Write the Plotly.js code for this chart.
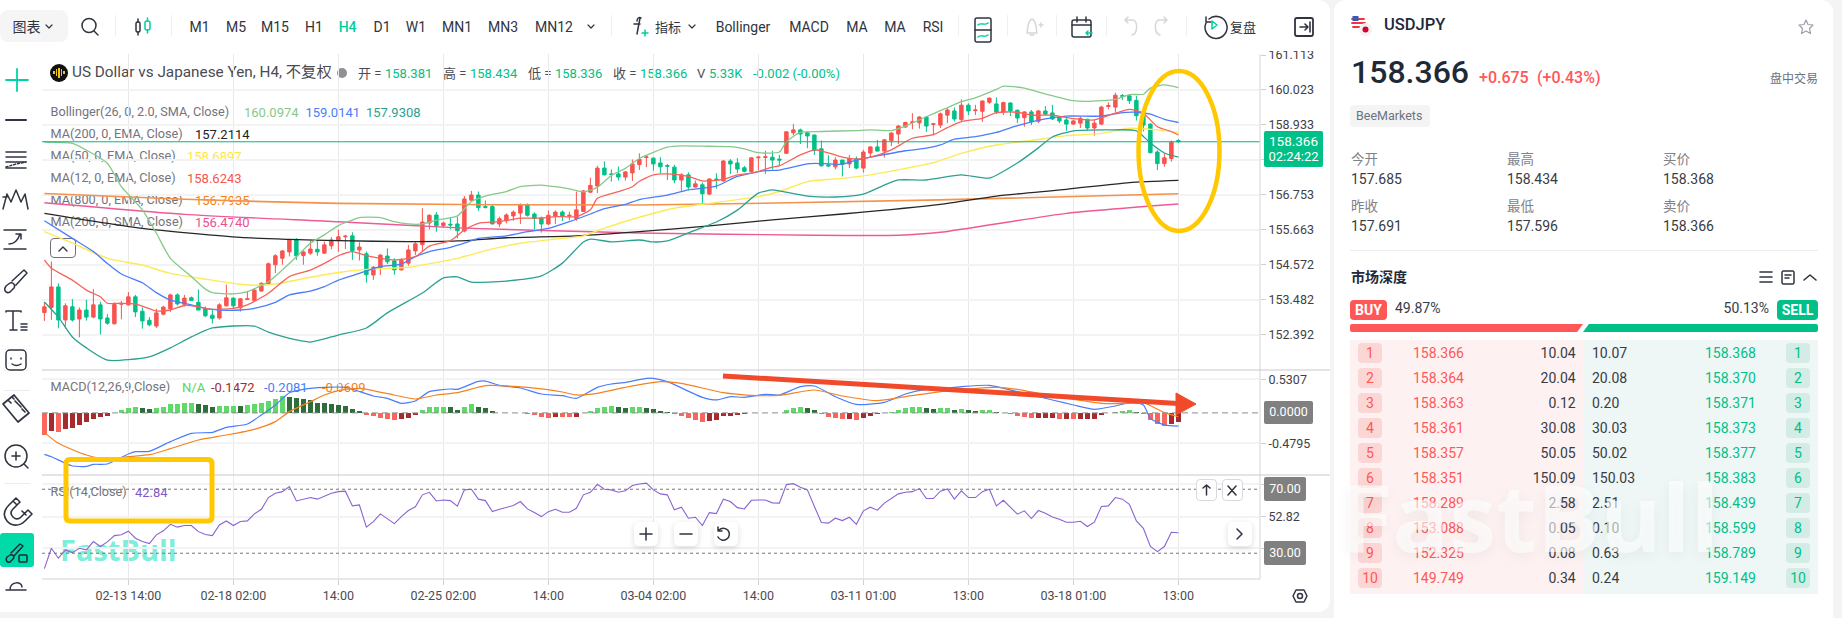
<!DOCTYPE html>
<html><head><meta charset="utf-8">
<script src="https://cdn.plot.ly/plotly-3.0.1.min.js"></script>
<style>
html,body{margin:0;padding:0;background:#f4f4f5;overflow:hidden}
#app{position:relative;width:1842px;height:618px;overflow:hidden;font-family:Roboto,"Noto Sans CJK SC",sans-serif}
.card{position:absolute;background:#fff}
#under,#over{position:absolute;left:0;top:0;width:1842px;height:618px}
#under{z-index:1}#plot{position:absolute;left:0;top:0;z-index:2}#over{z-index:3;pointer-events:none}
.t{position:absolute;white-space:nowrap;line-height:1}
.b{position:absolute;box-sizing:border-box}
svg{position:absolute;left:0;top:0}
</style></head><body>
<div id="app">
<div class="card" style="left:0;top:0;width:1330px;height:612px;border-radius:0 12px 12px 0"></div>
<div class="card" style="left:1334px;top:0;width:499px;height:618px;border-radius:12px 12px 0 0"></div>
<div id="under"></div><div id="plot"></div><div id="over"></div>
</div>
<script>
// ---------- candles ----------
const opens=[153.09,153.25,153.89,152.86,153.27,152.89,153.17,152.95,153.33,152.92,
152.74,153.35,153.33,153.58,153.13,152.85,152.67,153.04,153.21,153.64,
153.35,153.55,153.41,153.21,153.01,152.92,153.30,153.54,153.24,153.50,
153.47,153.76,153.97,154.58,154.78,154.98,155.37,154.87,154.94,155.06,
154.94,155.17,155.33,155.45,155.48,155.04,154.92,154.26,154.48,154.85,
154.70,154.42,154.63,155.01,155.21,155.88,156.13,155.80,155.84,155.85,
155.63,156.59,156.75,156.39,156.39,155.85,155.95,156.10,156.19,156.44,
156.16,156.04,155.85,156.10,156.22,156.10,156.02,156.24,156.84,157.03,
157.59,157.41,157.41,157.31,157.44,157.70,157.92,157.90,157.75,157.67,
157.62,157.22,157.38,157.00,157.07,156.78,157.25,157.19,157.81,157.75,
157.60,157.48,157.91,157.92,157.93,157.87,158.05,158.69,158.78,158.69,
158.62,158.19,157.69,157.63,157.84,157.72,157.88,157.59,158.06,158.25,
158.12,158.44,158.65,158.87,159.01,159.00,159.18,158.95,158.93,159.24,
159.37,159.10,159.55,159.38,159.36,159.64,159.59,159.34,159.62,159.39,
159.16,159.34,159.05,159.37,159.31,159.17,159.09,158.96,158.99,159.11,
158.84,158.96,159.51,159.49,159.85,159.84,159.70,159.25,158.96,158.09,
157.73,157.89,158.45];
const closes=[153.27,153.89,152.86,153.30,152.86,153.17,152.95,153.33,152.89,152.76,
153.34,153.37,153.58,153.11,152.83,152.71,153.08,153.26,153.64,153.36,
153.54,153.47,153.17,152.99,152.91,153.33,153.55,153.30,153.52,153.52,
153.79,154.00,154.61,154.86,155.01,155.35,154.86,154.98,155.07,154.98,
155.20,155.35,155.45,155.47,155.02,155.13,154.27,154.50,154.88,154.67,
154.42,154.72,155.04,155.23,155.91,156.12,155.80,155.88,155.82,155.64,
156.63,156.75,156.36,156.37,155.85,156.01,156.13,156.22,156.44,156.12,
156.02,155.85,156.12,156.22,156.10,156.12,156.29,156.88,157.05,157.59,
157.38,157.39,157.31,157.47,157.72,157.86,157.94,157.72,157.63,157.65,
157.22,157.38,157.00,157.10,156.79,157.25,157.23,157.81,157.72,157.56,
157.49,157.91,157.93,157.94,157.84,157.84,158.72,158.78,158.65,158.59,
158.14,157.66,157.66,157.84,157.71,157.89,157.59,158.09,158.25,158.12,
158.47,158.68,158.90,159.01,159.03,159.18,158.90,158.97,159.28,159.40,
159.12,159.55,159.37,159.40,159.68,159.77,159.34,159.63,159.37,159.15,
159.34,159.03,159.37,159.27,159.12,159.06,158.96,159.06,159.14,158.84,
158.99,159.49,159.54,159.86,159.83,159.69,159.22,158.93,158.07,157.73,
157.91,158.40,158.41];
const highs=[153.42,154.68,154.00,153.38,153.51,153.25,153.49,153.82,153.43,153.04,
153.41,153.45,153.73,153.64,153.25,152.95,153.21,153.30,153.68,153.69,
153.64,153.59,153.81,153.28,153.17,153.38,153.96,153.56,153.54,153.74,
153.85,154.03,154.65,154.91,155.04,155.37,155.41,155.02,155.32,155.35,
155.30,155.44,155.67,155.51,155.59,155.28,154.99,154.54,154.91,155.09,
154.78,154.78,155.20,155.30,156.34,156.15,156.22,155.92,156.06,156.08,
156.72,156.88,156.86,156.58,156.44,156.08,156.18,156.27,156.49,156.49,
156.21,156.08,156.27,156.27,156.27,156.23,156.86,156.91,157.29,157.66,
157.80,157.55,157.64,157.50,157.86,158.05,157.99,157.92,157.93,157.72,
157.69,157.43,157.46,157.20,157.14,157.27,157.43,157.84,157.87,157.90,
157.66,157.93,157.97,158.13,158.13,158.00,158.73,158.96,158.82,158.73,
158.64,158.45,157.99,157.93,157.84,158.00,157.95,158.16,158.28,158.47,
158.50,158.71,158.93,159.03,159.30,159.21,159.21,159.00,159.32,159.48,
159.48,159.73,159.61,159.56,159.69,159.79,159.79,159.66,159.63,159.42,
159.36,159.40,159.40,159.52,159.56,159.21,159.19,159.09,159.19,159.13,
159.09,159.53,159.64,159.94,159.90,159.87,159.84,159.32,158.98,158.15,
158.05,158.45,158.49];
const lows=[152.83,152.86,152.60,152.59,152.81,152.32,152.84,152.91,152.41,152.71,
152.72,152.88,153.31,152.95,152.59,152.66,152.61,153.00,153.11,153.31,
153.28,153.45,153.16,152.95,152.75,152.87,153.28,153.21,153.12,153.48,
153.42,153.74,153.95,154.32,154.58,154.84,154.73,154.58,154.89,154.86,
154.92,155.06,154.98,155.07,154.73,154.71,154.02,154.11,154.26,154.60,
154.27,154.40,154.55,154.88,154.99,155.68,155.61,155.73,155.68,155.40,
155.59,156.57,156.25,156.33,155.84,155.75,155.87,155.95,155.85,156.08,
155.69,155.58,155.81,155.85,155.94,155.97,155.95,156.22,156.82,156.81,
157.36,157.17,157.20,157.20,157.19,157.53,157.62,157.51,157.43,157.22,
157.12,156.88,156.90,156.98,156.47,156.75,156.95,157.17,157.41,157.43,
157.46,157.46,157.53,157.41,157.55,157.66,158.03,158.61,158.34,158.21,
158.00,157.64,157.62,157.55,157.33,157.59,157.55,157.45,157.92,158.11,
157.92,158.28,158.34,158.84,158.80,158.82,158.72,158.61,158.84,158.99,
159.04,159.06,159.24,159.24,159.03,159.59,159.27,159.24,159.21,158.99,
158.88,158.93,158.99,159.24,159.09,158.99,158.75,158.94,158.84,158.76,
158.60,158.93,159.42,159.32,159.71,159.59,159.07,158.73,158.05,157.53,
157.63,157.79,158.38];
const lastPriceLine=158.41;

// ---------- overlays, read at bar positions ----------
const bbUpperBar=[0,4,6,9,11,14,16,18,21,23,24,27,29,32,34,36,38,40,42,44,45,48,50,52,54,56,59,61,63,66,68,71,73,75,77,79,81,83,85,87,89,91,95,98,100,102,105,106,108,111,116,118,121,123,126,128,129,131,133,136,137,140,143,147,149,153,155,157,158,160,162];
const bbUpper=[158.40,158.36,158.15,157.74,157.01,156.29,155.56,154.78,154.21,153.82,153.71,153.67,153.74,154.05,154.42,154.83,155.25,155.51,155.80,155.97,156.05,156.05,155.92,155.85,155.85,155.97,156.10,156.55,156.72,156.86,157.01,157.06,157.01,156.94,156.85,156.99,157.36,157.58,157.89,158.08,158.24,158.28,158.27,158.26,158.19,158.07,158.09,158.41,158.70,158.73,158.76,158.78,158.76,158.90,159.19,159.38,159.47,159.66,159.78,160.04,160.14,160.08,159.90,159.69,159.67,159.73,159.88,159.89,160.08,160.18,160.10];
const bbMidBar=[0,4,7,9,11,14,16,18,21,23,26,28,30,33,35,38,40,42,45,48,51,53,55,58,60,62,66,69,72,75,78,80,83,85,89,92,96,99,103,105,109,110,114,116,119,123,126,128,130,133,136,139,143,146,151,154,156,158,160,162];
const bbMid=[155.95,155.40,154.99,154.62,154.29,154.02,153.71,153.48,153.33,153.22,153.16,153.17,153.22,153.41,153.64,153.76,153.90,154.10,154.31,154.52,154.60,154.83,154.99,155.12,155.25,155.40,155.48,155.61,155.71,155.92,156.16,156.33,156.46,156.61,156.75,156.91,157.03,157.33,157.51,157.53,157.72,157.74,157.71,157.84,157.97,158.13,158.21,158.31,158.49,158.57,158.70,158.91,159.12,159.21,159.21,159.32,159.33,159.27,159.11,159.01];
const bbLowerBar=[0,2,4,6,9,15,18,21,24,30,32,36,38,42,46,49,54,57,59,61,66,71,74,77,78,81,85,87,89,93,96,99,102,104,105,109,113,117,120,122,126,131,135,139,142,144,147,152,156,158,160,162];
const bbLower=[153.42,152.95,152.33,151.99,151.61,151.71,151.99,152.33,152.61,152.67,152.48,152.24,152.17,152.39,152.61,153.08,153.70,154.17,154.20,154.04,154.07,154.23,154.63,155.29,155.38,155.29,155.35,155.29,155.32,155.66,155.91,156.28,156.81,156.91,156.88,156.72,156.69,156.78,157.06,157.22,157.22,157.38,157.28,157.75,158.22,158.56,158.75,158.78,158.75,158.37,158.06,157.93];
const ma12Bar=[0,1,4,6,8,9,11,13,16,18,20,22,24,27,29,32,35,38,40,42,44,46,48,50,53,55,58,60,62,65,68,71,73,76,78,79,82,84,85,87,89,92,94,97,99,101,104,105,108,110,111,114,116,118,121,124,127,129,131,134,136,139,141,144,147,150,153,155,157,159,161,162];
const ma12=[154.73,154.47,154.10,153.79,153.58,153.38,153.38,153.36,153.14,153.17,153.31,153.27,153.19,153.22,153.33,153.69,154.21,154.41,154.62,154.86,154.99,154.86,154.78,154.73,154.83,155.16,155.33,155.66,155.87,155.92,156.03,156.03,156.08,156.08,156.29,156.65,156.86,157.01,157.18,157.38,157.41,157.33,157.19,157.24,157.38,157.43,157.62,157.66,158.00,158.16,158.13,157.93,157.87,157.93,158.16,158.52,158.63,158.85,159.04,159.14,159.32,159.33,159.24,159.24,159.13,159.09,159.30,159.42,159.30,158.88,158.73,158.62];
const ma50Bar=[0,4,9,14,18,23,28,30,33,38,42,47,52,59,63,68,73,77,80,85,90,95,102,105,109,114,118,123,127,131,136,141,146,151,155,159,162];
const ma50=[155.61,155.25,154.78,154.57,154.31,154.13,153.97,153.94,153.98,154.19,154.34,154.45,154.50,154.78,155.02,155.25,155.38,155.48,155.72,156.06,156.34,156.49,156.70,156.86,157.17,157.27,157.38,157.58,157.76,158.05,158.31,158.45,158.60,158.67,158.83,158.78,158.69];
const ma800EmaBar=[0,20,42,85,128,162];
const ma800Ema=[156.80,156.62,156.49,156.44,156.60,156.79];
const ma200SmaBar=[0,20,42,60,85,110,122,128,146,162];
const ma200Sma=[156.51,156.15,155.92,155.72,155.57,155.50,155.50,155.59,156.18,156.47];
const ma200EmaBar=[0,14,28,35,42,52,59,66,76,85,95,104,114,128,136,146,155,162];
const ma200Ema=[156.18,155.71,155.43,155.37,155.33,155.30,155.32,155.42,155.48,155.61,155.79,155.98,156.16,156.46,156.72,156.93,157.14,157.21];

// ---------- MACD ----------
const macdHist=[-.342,-.279,-.295,-.247,-.237,-.184,-.147,-.089,-.068,-.053,-.005,.042,.074,.100,.084,.068,.079,.100,.147,.147,
.163,.163,.147,.121,.089,.105,.116,.116,.112,.126,.142,.158,.195,.226,.274,.247,.242,.226,.200,.163,
.153,.147,.132,.116,.068,.037,-.037,-.053,-.074,-.089,-.105,-.089,-.074,-.026,.042,.089,.089,.092,.089,.053,
.089,.137,.095,.074,.037,.005,-.005,-.005,-.005,-.021,-.032,-.063,-.074,-.058,-.060,-.062,-.058,-.005,.032,.084,
.100,.102,.100,.084,.086,.100,.084,.068,.037,.021,-.016,-.053,-.084,-.105,-.137,-.121,-.105,-.053,-.042,-.026,
-.021,0,0,0,0,0,.053,.084,.086,.084,.053,-.021,-.058,-.074,-.089,-.089,-.105,-.074,-.042,-.021,
0,.016,.053,.084,.086,.100,.084,.068,.070,.072,.053,.068,.053,.037,.040,.053,.021,0,-.011,-.042,
-.058,-.074,-.074,-.074,-.074,-.089,-.089,-.095,-.095,-.095,-.095,-.037,-.005,.011,.032,.047,.011,-.011,-.105,-.168,
-.200,-.174,-.147];
const macdLineBar=[0,1,4,6,7,9,12,13,15,18,21,24,26,29,31,33,35,37,40,43,47,49,51,53,55,58,59,62,63,65,68,71,74,76,79,81,83,86,87,89,94,96,98,100,103,105,108,110,113,116,120,123,126,128,131,135,139,144,147,150,153,155,157,158,160,162];
const macdLine=[-.654,-.691,-.838,-.843,-.812,-.806,-.649,-.612,-.606,-.454,-.322,-.307,-.228,-.175,-.033,.125,.319,.372,.403,.403,.267,.230,.151,.188,.335,.377,.372,.498,.503,.435,.393,.298,.272,.230,.403,.456,.482,.545,.545,.493,.246,.204,.256,.246,.293,.283,.414,.425,.256,.135,.167,.298,.372,.383,.414,.435,.335,.204,.125,.056,.109,.161,.125,-.086,-.191,-.208];
const macdSignalBar=[0,2,6,9,12,15,18,22,26,30,33,35,38,40,42,45,50,53,56,59,63,66,69,74,76,79,83,88,91,97,101,105,110,114,119,123,129,136,139,144,147,151,155,157,160,162];
const macdSignal=[-.307,-.480,-.664,-.733,-.691,-.659,-.564,-.428,-.349,-.259,-.138,.020,.177,.282,.351,.388,.282,.219,.282,.319,.430,.425,.403,.330,.283,.309,.403,.493,.467,.319,.277,.277,.361,.267,.193,.256,.346,.403,.372,.267,.214,.151,.151,.161,.004,-.061];

// ---------- RSI ----------
const rsi=[20.4,33.1,26.9,32.1,30.4,33.1,32.1,37.3,34.2,37.1,41.0,41.5,43.8,39.4,37.3,36.0,41.5,44.0,48.1,46.3,
47.3,47.3,43.5,41.7,41.0,47.7,50.2,47.3,49.8,50.2,54.6,57.5,64.8,67.5,68.5,71.7,62.7,63.8,64.8,63.8,
65.8,67.5,68.5,68.8,59.6,60.2,46.3,49.8,54.6,51.5,48.5,52.9,56.7,59.0,66.5,68.1,62.7,63.3,62.9,59.4,
69.6,70.0,63.8,62.9,56.0,57.5,58.8,59.8,62.3,57.7,55.4,52.9,56.0,57.5,55.6,55.6,58.1,66.5,68.1,73.1,
70.0,69.6,68.1,69.0,72.3,73.3,73.8,69.6,67.1,66.5,57.1,58.8,51.9,52.5,47.3,55.4,54.8,63.8,62.3,58.5,
57.7,63.1,63.3,63.3,61.5,61.3,72.9,73.5,71.3,69.6,59.2,49.2,48.8,51.9,50.4,52.5,48.1,56.5,58.8,56.9,
61.3,64.2,67.1,68.1,68.5,70.4,64.2,64.2,68.8,70.2,63.8,69.0,64.8,64.8,68.5,70.0,59.6,63.1,58.8,54.4,
56.5,51.7,56.7,55.0,52.7,51.3,49.4,49.4,50.0,46.7,49.4,59.2,59.6,64.8,63.8,60.6,50.2,45.6,34.2,31.0,
34.2,43.1,42.84];

// ---------- axes labels ----------
const timeTickBars=[12,27,42,57,72,87,102,117,132,147,162];
const timeTickLabels=["02-13 14:00","02-18 02:00","14:00","02-25 02:00","14:00","03-04 02:00","14:00","03-11 01:00","13:00","03-18 01:00","13:00"];
const priceTicks=[161.113,160.023,158.933,157.843,156.753,155.663,154.572,153.482,152.392];
const priceTickLabels=["161.113","160.023","158.933","","156.753","155.663","154.572","153.482","152.392"];
const macdTicks=[0.5307,-0.4795];
const rsiTicks=[73.2,52.82,33];
const rsiTickLabels=["","52.82",""];

// ---------- order book ----------
const bidPrices=["158.366","158.364","158.363","158.361","158.357","158.351","158.289","153.088","152.325","149.749"];
const bidSizes=["10.04","20.04","0.12","30.08","50.05","150.09","2.58","0.05","0.08","0.34"];
const askSizes=["10.07","20.08","0.20","30.03","50.02","150.03","2.51","0.10","0.63","0.24"];
const askPrices=["158.368","158.370","158.371","158.373","158.377","158.383","158.439","158.599","158.789","159.149"];

const W=1842,H=618;
const px=(x,y)=>(x/W).toFixed(5)+' '+(1-y/H).toFixed(5);
const barIdx=closes.map((_,i)=>i);
const histColors=macdHist.map((v,i)=>{const p=i?macdHist[i-1]:0;
  if(v>=0) return v>=p?'#5fd968':'#2f6e3a';
  return v<p?'#f8665e':'#a52b2e';});
function ln(x,y,color,w,ya,shape){return {type:'scatter',mode:'lines',x:x,y:y,xaxis:ya==='y'?'x':(ya==='y2'?'x2':'x3'),yaxis:ya,
  line:{color:color,width:w,shape:shape||'spline',smoothing:0.6},hoverinfo:'skip',showlegend:false};}
const traces=[
 {type:'candlestick',x:barIdx,open:opens,high:highs,low:lows,close:closes,xaxis:'x',yaxis:'y',whiskerwidth:0,
  increasing:{line:{color:'#f9534f',width:1},fillcolor:'#f9534f'},decreasing:{line:{color:'#00c087',width:1},fillcolor:'#00c087'},hoverinfo:'skip',showlegend:false},
 ln(ma800EmaBar,ma800Ema,'#f59148',1.6,'y'),
 ln(ma200SmaBar,ma200Sma,'#ee5a96',1.4,'y'),
 ln(ma200EmaBar,ma200Ema,'#262626',1.3,'y'),
 ln(ma50Bar,ma50,'#fdea55',1.4,'y'),
 ln(bbUpperBar,bbUpper,'#86c98a',1.3,'y'),
 ln(bbMidBar,bbMid,'#4a7dfc',1.3,'y'),
 ln(bbLowerBar,bbLower,'#2aa191',1.3,'y'),
 ln(ma12Bar,ma12,'#f6635a',1.3,'y'),
 {type:'bar',x:barIdx,y:macdHist,xaxis:'x2',yaxis:'y2',marker:{color:histColors,line:{width:0}},width:0.72,hoverinfo:'skip',showlegend:false},
 ln(macdLineBar,macdLine,'#4a7dfc',1.2,'y2'),
 ln(macdSignalBar,macdSignal,'#f58220',1.2,'y2'),
 ln(barIdx,rsi,'#8a63d2',1.1,'y3','linear')
];
const xBase={range:[-0.34,173.66],domain:[42/W,1260/W],type:'linear',showgrid:true,gridcolor:'#e9e9ec',gridwidth:1,
 tickmode:'array',tickvals:timeTickBars,ticktext:timeTickLabels,zeroline:false,showline:false,fixedrange:true,rangeslider:{visible:false}};
const yBase={side:'right',tickmode:'array',zeroline:false,showline:false,ticks:'outside',ticklen:5,tickcolor:'#cfcfd6',
 tickfont:{family:'Roboto',size:12.5,color:'#3f3f46'},gridcolor:'#f3f3f4',gridwidth:2,fixedrange:true};
const layout={width:W,height:H,margin:{l:0,r:0,t:0,b:0},paper_bgcolor:'rgba(0,0,0,0)',plot_bgcolor:'rgba(0,0,0,0)',showlegend:false,bargap:0,
 xaxis:Object.assign({},xBase,{anchor:'y',showticklabels:false,ticks:''}),
 xaxis2:Object.assign({},xBase,{anchor:'y2',showticklabels:false,ticks:''}),
 xaxis3:Object.assign({},xBase,{anchor:'y3',showticklabels:true,ticks:'outside',ticklen:5,tickcolor:'#cfcfd6',tickfont:{family:'Roboto',size:12.5,color:'#4b4b52'}}),
 yaxis:Object.assign({},yBase,{domain:[1-370/H,1-54/H],range:[151.301,161.144],anchor:'x',tickvals:priceTicks,ticktext:priceTickLabels}),
 yaxis2:Object.assign({},yBase,{domain:[1-475/H,1-370/H],range:[-0.980,0.677],anchor:'x2',tickvals:macdTicks,ticktext:["0.5307","-0.4795"]}),
 yaxis3:Object.assign({},yBase,{domain:[1-579/H,1-475/H],range:[13.9,78.9],anchor:'x3',tickvals:rsiTicks,ticktext:rsiTickLabels}),
 shapes:[
  {type:'line',xref:'paper',yref:'y',x0:42/W,x1:1260/W,y0:lastPriceLine,y1:lastPriceLine,line:{color:'#00b97f',width:1}},
  {type:'line',xref:'paper',yref:'y2',x0:42/W,x1:1260/W,y0:0,y1:0,line:{color:'#8c8c8c',width:1,dash:'6px,4px'}},
  {type:'line',xref:'paper',yref:'y3',x0:42/W,x1:1260/W,y0:70,y1:70,line:{color:'#777',width:1,dash:'dot'}},
  {type:'line',xref:'paper',yref:'y3',x0:42/W,x1:1260/W,y0:30,y1:30,line:{color:'#777',width:1,dash:'dot'}},
  {type:'line',xref:'paper',yref:'paper',x0:1260/W,x1:1260/W,y0:1-579/H,y1:1-54/H,line:{color:'#d4d4da',width:1}},
  {type:'line',xref:'paper',yref:'paper',x0:42/W,x1:1330/W,y0:1-370/H,y1:1-370/H,line:{color:'#c9c9d1',width:1.2}},
  {type:'line',xref:'paper',yref:'paper',x0:42/W,x1:1330/W,y0:1-475/H,y1:1-475/H,line:{color:'#c9c9d1',width:1.2}},
  {type:'line',xref:'paper',yref:'paper',x0:42/W,x1:1260/W,y0:1-579/H,y1:1-579/H,line:{color:'#d0d0d6',width:1}},
  {type:'circle',xref:'paper',yref:'paper',x0:1138.5/W,x1:1219.5/W,y0:1-231/H,y1:1-71/H,line:{color:'#ffc800',width:4.5}},
  {type:'path',xref:'paper',yref:'paper',path:'M'+px(70,459.5)+' L'+px(208,459.5)+' Q'+px(212,459.5)+' '+px(212,463.5)+' L'+px(212,517)+' Q'+px(212,521)+' '+px(208,521)+' L'+px(70,521)+' Q'+px(66,521)+' '+px(66,517)+' L'+px(66,463.5)+' Q'+px(66,459.5)+' '+px(70,459.5)+' Z',line:{color:'#ffc800',width:5}},
  {type:'line',xref:'paper',yref:'paper',x0:723/W,y0:1-376/H,x1:1178/W,y1:1-403.5/H,line:{color:'#f04a2a',width:5}},
  {type:'path',xref:'paper',yref:'paper',path:'M'+px(1176,393)+' L'+px(1196,404)+' L'+px(1176,415)+' Z',fillcolor:'#f04a2a',line:{color:'#f04a2a',width:1}}
 ]};

// ---------- chrome helpers ----------
const under=document.getElementById('under'),over=document.getElementById('over');
function T(par,x,y,txt,o){o=o||{};const d=document.createElement('div');d.className='t';d.textContent=txt;
 d.style.left=x+'px';d.style.top=y+'px';d.style.fontSize=(o.s||13)+'px';d.style.color=o.c||'#333';
 if(o.w)d.style.fontWeight=o.w;
 d.style.transform='translate('+(o.a==='c'?'-50%':o.a==='r'?'-100%':'0')+',-50%)';
 if(o.css)d.style.cssText+=o.css;par.appendChild(d);return d;}
function B(par,x,y,w,h,css){const d=document.createElement('div');d.className='b';d.style.cssText='left:'+x+'px;top:'+y+'px;width:'+w+'px;height:'+h+'px;'+(css||'');par.appendChild(d);return d;}

// legend layer (under the chart lines)
const G='#74747c',UP='#00c087';
B(under,50,64,18,18,'background:#111;border-radius:50%');
[[54,71,3],[56.5,69,7],[59,67.5,10],[61.5,69,7],[64,71,3]].forEach(r=>B(under,r[0]-.7,r[1],1.6,r[2],'background:#f5c518'));
T(under,72,73,'US Dollar vs Japanese Yen, H4, 不复权',{s:15.3,c:'#4b4b52'});
B(under,337,68,10,10,'background:#8f8f95;border-radius:50%');
[[358,'开 = ','158.381'],[443,'高 = ','158.434'],[528,'低 = ','158.336'],[613,'收 = ','158.366']].forEach(r=>{
 T(under,r[0],73,r[1],{s:13,c:'#4b4b52'});T(under,r[0]+27,73,r[2],{s:13,c:UP});});
T(under,697,73,'V',{s:13,c:'#4b4b52'});T(under,709,73,'5.33K',{s:13,c:UP});T(under,753,73,'-0.002 (-0.00%)',{s:13,c:UP});
T(under,50.5,112,'Bollinger(26, 0, 2.0, SMA, Close)',{s:12.7,c:G});
T(under,244,112,'160.0974',{s:13,c:'#86c98a'});T(under,305.5,112,'159.0141',{s:13,c:'#4a7dfc'});T(under,366,112,'157.9308',{s:13,c:'#2aa191'});
[[134,'MA(200, 0, EMA, Close)','157.2114','#222',195],[156,'MA(50, 0, EMA, Close)','158.6897','#fde83f',187],[178,'MA(12, 0, EMA, Close)','158.6243','#f6554c',187],[200,'MA(800, 0, EMA, Close)','156.7935','#f58220',195],[222,'MA(200, 0, SMA, Close)','156.4740','#ee4f8f',195]].forEach(r=>{
 T(under,50.5,r[0],r[1],{s:12.7,c:G});T(under,r[4],r[0],r[2],{s:13,c:r[3]});});
B(under,50,238,26,20,'border:1px solid #70707a;border-radius:4px;background:#fff');
T(under,50.5,387,'MACD(12,26,9,Close)',{s:12.7,c:G});
T(under,182,387,'N/A',{s:13,c:'#5ad65a'});T(under,211,387,'-0.1472',{s:13,c:'#a02c2c'});T(under,264,387,'-0.2081',{s:13,c:'#4a7dfc'});T(under,322,387,'-0.0609',{s:13,c:'#f58220'});
T(under,50.5,492,'RSI(14,Close)',{s:12.7,c:G});T(under,135,492,'42.84',{s:13,c:'#8058c8'});
T(under,60,549,'FastBull',{s:29,c:'#7eeeda',w:700,css:'font-family:"Open Sans",Roboto,sans-serif'});

// top toolbar covers the clipped axis label
B(over,0,0,1330,50.5,'background:#fff;border-radius:0 12px 0 0');
B(over,0,10,68,32,'background:#f5f5f6;border-radius:8px');
T(over,12.5,27,'图表',{s:14,c:'#2f3440'});
const TB=[[199.5,'M1'],[236,'M5'],[275,'M15'],[314,'H1'],[347.6,'H4'],[382,'D1'],[416,'W1'],[457,'MN1'],[503,'MN3'],[554,'MN12'],[668,'指标'],[743,'Bollinger'],[809,'MACD'],[857,'MA'],[895,'MA'],[933,'RSI'],[1243,'复盘']];
TB.forEach(r=>T(over,r[0],27,r[1],{s:r[1]==='复盘'||r[1]==='指标'?13:14,a:'c',c:r[1]==='H4'?'#00cfa0':'#2f3440',w:r[1]==='H4'?500:400}));
[115,171,611,958,1007,1056,1106,1186].forEach(x=>B(over,x,15,1,21,'background:#efeff1'));
[[0,50,390],[0,50,483]].forEach(r=>B(over,r[0]+4,r[2],26,1,'background:#ececee'));

// price boxes
B(over,1264,131,59,36,'background:#00c087;border-radius:2px');
T(over,1293.5,141.5,'158.366',{s:13.5,a:'c',c:'#fff'});T(over,1293.5,155.5,'02:24:22',{s:13,a:'c',c:'#fff'});
B(over,1264,401,49,23,'background:#808080;border-radius:2px');T(over,1288.5,412,'0.0000',{s:12.5,a:'c',c:'#fff'});
B(over,1264,477,42,24,'background:#808080;border-radius:2px');T(over,1285,488.5,'70.00',{s:12.5,a:'c',c:'#fff'});
B(over,1264,541,42,24,'background:#808080;border-radius:2px');T(over,1285,552.5,'30.00',{s:12.5,a:'c',c:'#fff'});
// chart buttons
const btn='background:#fff;border-radius:5px;box-shadow:0 2px 6px rgba(0,0,0,.14)';
[634,674,714,1228].forEach(x=>B(over,x,522,24,24,btn));
[1196,1222].forEach(x=>B(over,x,479,21,22,'background:#fff;border:1px solid #d8d8de;border-radius:4px'));

// right panel
const R='#ff5757',Gx='#00c087',Gray='#7d828b';
T(over,1384,25,'USDJPY',{s:16.5,c:'#1f2937',w:500});
T(over,1351,72,'158.366',{s:32,c:'#1f2937',w:500});
T(over,1479,78,'+0.675',{s:16,c:R,w:500});T(over,1537,78,'(+0.43%)',{s:16,c:R,w:500});
T(over,1818,79,'盘中交易',{s:12,a:'r',c:'#6b7280'});
B(over,1350,105,80,22,'background:#f4f4f5;border-radius:3px');T(over,1356,116,'BeeMarkets',{s:12.5,c:'#6b7280'});
[[1351,'今开','157.685','昨收','157.691'],[1507,'最高','158.434','最低','157.596'],[1663,'买价','158.368','卖价','158.366']].forEach(r=>{
 T(over,r[0],160,r[1],{s:13.5,c:Gray});T(over,r[0],179,r[2],{s:14,c:'#383c45'});
 T(over,r[0],207,r[3],{s:13.5,c:Gray});T(over,r[0],226,r[4],{s:14,c:'#383c45'});});
B(over,1350,250,468,1,'background:#eeeef0');
T(over,1351,277,'市场深度',{s:14,c:'#1f2937',w:700});
B(over,1350,300,37,20,'background:'+R+';border-radius:4px');T(over,1368.5,310,'BUY',{s:14,a:'c',c:'#fff',w:700});
T(over,1395,308,'49.87%',{s:14,c:'#383c45'});T(over,1769,308,'50.13%',{s:14,a:'r',c:'#383c45'});
B(over,1777,300,41,20,'background:'+Gx+';border-radius:4px');T(over,1797.5,310,'SELL',{s:14,a:'c',c:'#fff',w:700});
B(over,1350,324,233,8,'background:'+R+';clip-path:polygon(0 0,100% 0,97.5% 100%,0 100%);border-radius:2px 0 0 2px');
B(over,1583,324,235,8,'background:'+Gx+';clip-path:polygon(2.5% 0,100% 0,100% 100%,0 100%);border-radius:0 2px 2px 0');
B(over,1350,340,233,254,'background:#fdf2f1');B(over,1583,340,235,254,'background:#eef7f6');
bidPrices.forEach((p,i)=>{const y=353.2+25*i;
 B(over,1358,y-10,24,20,'background:#fcd6d4;border-radius:4px');
 T(over,1370,y,String(i+1),{s:14,a:'c',c:R});
 T(over,1413,y-.7,p,{s:14,c:R});
 T(over,1575.7,y-.7,bidSizes[i],{s:14,a:'r',c:'#383c45'});
 T(over,1592,y-.7,askSizes[i],{s:14,c:'#383c45'});
 T(over,1705,y-.7,askPrices[i],{s:14,c:Gx});
 B(over,1786,y-10,24,20,'background:#d3ece6;border-radius:4px');
 T(over,1798,y,String(i+1),{s:14,a:'c',c:Gx});
});
T(over,1341,516,'FastBull',{s:94,c:'rgba(255,255,255,.6)',w:700,css:'font-family:"Open Sans",Roboto,sans-serif;text-shadow:0 4px 14px rgba(0,0,0,.05)'});

// icons
const I='#2f3440';
const NS='http://www.w3.org/2000/svg';
const svgIcons=`
<svg width="1842" height="618" xmlns="${NS}" fill="none" stroke="${I}" stroke-width="1.5" stroke-linecap="round" stroke-linejoin="round">
<path d="M46 25l3 3 3-3" stroke-width="1.2"/>
<circle cx="89" cy="25.5" r="7"/><path d="M94 31l4 4"/>
<rect x="136" y="22" width="4" height="10" rx="1.5"/><path d="M138 19v3M138 32v3"/>
<rect x="145" y="21" width="5" height="9" rx="2" stroke="#00cfa0"/><path d="M147.5 18v3M147.5 30v3" stroke="#00cfa0"/>
<path d="M588 25l3 3 3-3" stroke-width="1.2"/>
<path d="M637 21c0-3 2-4 4-3M640 18l-3 16M634 24h6" /><path d="M645 30v6M642 33h6" stroke="#00cfa0"/>
<path d="M689 25l3 3 3-3" stroke-width="1.2"/>
<rect x="975" y="18" width="16" height="24" rx="2"/><path d="M975 30h16"/><path d="M978 25c3-3 7 1 10-2M978 37c3-3 7 1 10-2" stroke="#00cfa0"/>
<path d="M1027 33c1-3 0-12 5-14 5 2 4 11 5 14zM1030 35h4M1039 25h4M1041 23v4" stroke="#d5d6da"/>
<rect x="1072" y="20" width="19" height="17" rx="2"/><path d="M1072 25h19M1077 17v5M1086 17v5"/><path d="M1092 33h-6l2-2M1086 33l2 2" stroke="#00cfa0"/>
<path d="M1125 20h8c5 0 5 14-1 15M1125 20l3-3M1125 20l3 3" stroke="#d5d6da"/><path d="M1167 20h-8c-5 0-5 14 1 15M1167 20l-3-3M1167 20l-3 3" stroke="#d5d6da"/>
<path d="M1209 19a11 11 0 1 1-3 4M1206 17v5h5"/><path d="M1212 21l5 4-5 4z" stroke="#00cfa0"/>
<rect x="1295" y="18" width="18" height="18" rx="2" stroke-width="1.8"/><path d="M1300 27h8M1305 24l3 3-3 3M1310 22v10" stroke-width="1.6"/>
<path d="M6 80h22M17 69v22" stroke="#00d4a6" stroke-width="1.8"/>
<path d="M6 120h20" stroke-width="2"/>
<path d="M6 152h20M6 157h20M6 162h20" /><path d="M6 167l10-3 10-2" stroke-dasharray="2 2"/>
<path d="M6 168h20"/>
<path d="M3 209l4-15 4 8 5-12 5 12 4-8 3 15M3 197l4 0" />
<path d="M4 249h22M4 230h22M9 244c6 0 9-4 11-10M16 234h5v5"/>
<path d="M6 286c-3 4 0 8 4 6l4-4c2-3-1-6-4-5zM12 281l12-11 3 3-11 12"/>
<path d="M6 312v-1h15v1M13 311v19M10 330h7M21 324h6M21 327h6M21 330h6"/>
<rect x="6" y="350" width="20" height="20" rx="4"/><path d="M11 358v1M21 358v1M12 364c3 2 6 2 9 0"/>
<path d="M3 404l11-9 15 18-11 9zM8 400l3 3M12 397l2 2M15 401l3 3M19 405l2 2M22 409l3 3" stroke-width="1.7"/>
<circle cx="16" cy="456" r="11"/><path d="M24 464l4 4M12 456h8M16 452v8"/>
<path d="M9 505l7-7 4 4-7 7c-3 3-2 6 0 8s5 3 8 0l7-7 4 4-7 7c-6 6-14 5-18 0s-4-10 2-16zM13 501l4 4M22 511l4 4" stroke-width="1.6"/>
<rect x="0" y="533" width="34" height="34" rx="3" fill="#00d9a8" stroke="none"/>
<path d="M7 557c-2 3 0 6 3 5l3-3c2-2 0-5-3-4zM11 553l9-9 3 2-9 10" stroke="#1f2937"/><rect x="19" y="555" width="8" height="7" rx="1" stroke="#1f2937"/>
<path d="M6 590h20M10 590c0-9 12-9 12-3"/>
<path d="M59 251l4-4 4 4" stroke-width="1.4"/>
<path d="M640 534h12M646 528v12M680 534h12M719 530a6 6 0 1 1-1 7M718 527v4h4M1237 529l5 5-5 5M1206.5 485v10M1203 488l3.500-3 3.500 3M1228 486l8 9M1236 486l-8 9"/>
<path d="M1296 590h8l3 6-3 6h-8l-3-6z"/><circle cx="1300" cy="596" r="2.500"/>
<path d="M1806 20l2 4.500 5 .5-3.500 3.500 1 5-4.500-2.500-4.500 2.500 1-5-3.500-3.500 5-.5z" stroke="#9a9ea6" stroke-width="1.2"/>
<path d="M1760 272h12M1760 277h12M1760 282h12" stroke-width="1.6"/>
<rect x="1782" y="271" width="12" height="13" rx="1.500"/><path d="M1785 275h6M1785 278h4"/>
<path d="M1804 280l6-5 6 5" stroke-width="1.6"/>
<circle cx="1360" cy="24" r="8" fill="#fff" stroke="none"/>
<path d="M1352 19h12M1352 23h13M1353 27h8" stroke="#ef3340" stroke-width="1.8"/><rect x="1352.500" y="16" width="6" height="5" fill="#3b5bb5" stroke="none"/>
<circle cx="1365.500" cy="29.500" r="6.500" fill="#f1f1f1" stroke="none"/><circle cx="1365.500" cy="29.500" r="3" fill="#d7002a" stroke="none"/>
</svg>`;
over.insertAdjacentHTML('beforeend',svgIcons);

Plotly.newPlot('plot',traces,layout,{staticPlot:true,displayModeBar:false});
</script></body></html>
